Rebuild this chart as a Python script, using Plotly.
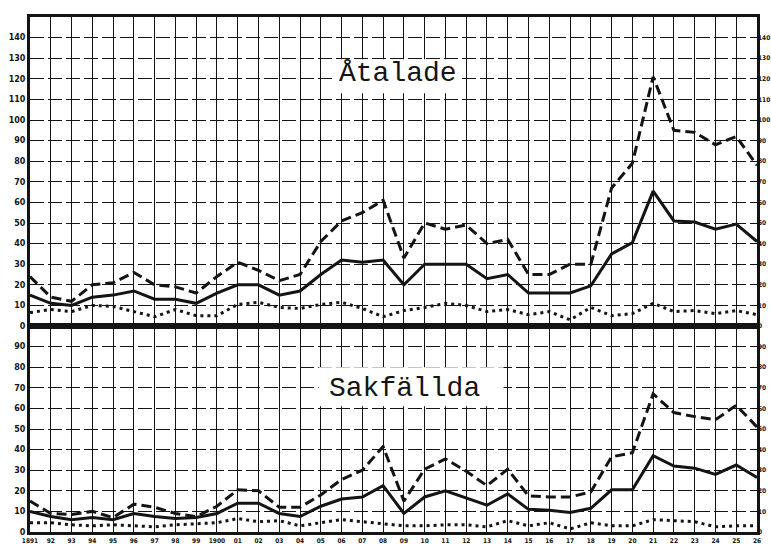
import plotly.graph_objects as go

years = list(range(1891, 1927))
year_labels = ["1891", "92", "93", "94", "95", "96", "97", "98", "99", "1900",
               "01", "02", "03", "04", "05", "06", "07", "08", "09", "10",
               "11", "12", "13", "14", "15", "16", "17", "18", "19", "20",
               "21", "22", "23", "24", "25", "26"]

# Åtalade (upper panel)
at_dash = [24, 14, 12, 20, 21, 26, 20, 19, 16, 24, 31, 27, 22, 25, 41, 51, 55, 61,
           33, 50, 47, 49, 40, 42, 25, 25, 30, 30, 67, 79, 121, 95, 94, 88, 92, 78]
at_solid = [15, 11, 10, 14, 15, 17, 13, 13, 11, 16, 20, 20, 15, 17, 25, 32, 31, 32,
            20, 30, 30, 30, 23, 25, 16, 16, 16, 19.5, 35, 40.5, 65.5, 51, 50.5, 47, 49.5, 41]
at_dot = [6.5, 8, 7, 10, 9.5, 7, 4.5, 8, 5, 5, 10.5, 11.5, 9, 8.5, 10.5, 11.5, 8.5, 4.5,
          7.5, 9, 11, 10, 7, 8, 5.5, 7, 3, 9, 5, 6, 11, 7, 7.5, 6, 7.5, 5.5]

# Sakfällda (lower panel)
sf_dash = [15, 9, 8.5, 10, 7, 13.5, 12, 9, 7.5, 12.5, 20.5, 20, 12, 12, 18, 25.5, 30, 41.5,
           15, 30.5, 35.5, 29.5, 22.5, 30.5, 17.5, 17, 17, 19.5, 36.5, 38.5, 67, 58, 56, 54.5, 61.5, 51]
sf_solid = [10, 7.5, 6, 7, 6, 9, 7.5, 6.5, 7, 9, 14, 14, 9, 7.5, 12.5, 16, 17, 22.5,
            9, 17, 20, 16.5, 13, 18.5, 11, 10.5, 9.5, 11.5, 20.5, 20.5, 37, 32, 31, 28, 32.5, 26.5]
sf_dot = [4.5, 4.5, 3.5, 3, 3.5, 3, 2.5, 3.5, 4, 4.5, 6.5, 5, 5.5, 3, 4.5, 6, 5, 4,
          3, 3, 3.5, 3.5, 2.5, 5.5, 3, 4.5, 1.5, 4.5, 3, 3, 6, 5.5, 5, 2.5, 3, 3]

upper_ticks = list(range(0, 150, 10))
lower_ticks = list(range(0, 100, 10))

INK = "#141414"
fig = go.Figure()

def add_set(dash, solid, dot, xa, ya):
    fig.add_trace(go.Scatter(x=years, y=dot, xaxis=xa, yaxis=ya, mode="lines",
                             line=dict(color=INK, width=3, dash="3px,4px"), hoverinfo="skip"))
    fig.add_trace(go.Scatter(x=years, y=solid, xaxis=xa, yaxis=ya, mode="lines",
                             line=dict(color=INK, width=3), hoverinfo="skip"))
    fig.add_trace(go.Scatter(x=years, y=dash, xaxis=xa, yaxis=ya, mode="lines",
                             line=dict(color=INK, width=3, dash="10px,5px"), hoverinfo="skip"))

add_set(sf_dash, sf_solid, sf_dot, "x", "y")
add_set(at_dash, at_solid, at_dot, "x2", "y2")
# invisible helpers so the right-hand axes are drawn
fig.add_trace(go.Scatter(x=years, y=sf_dot, xaxis="x", yaxis="y3", mode="lines",
                         line=dict(width=0), hoverinfo="skip", opacity=0))
fig.add_trace(go.Scatter(x=years, y=at_dot, xaxis="x2", yaxis="y4", mode="lines",
                         line=dict(width=0), hoverinfo="skip", opacity=0))

tickfont = dict(family="DejaVu Sans", size=8, color=INK, weight="bold")
rtickfont = dict(family="DejaVu Sans Condensed, DejaVu Sans", size=6.5, color=INK, weight="bold")
split = 100 / 250

common_x = dict(range=[1891, 1926], tickvals=years, showgrid=True, gridcolor=INK,
                gridwidth=1.4, showline=True, linecolor=INK, linewidth=3, mirror=True,
                zeroline=False, ticks="", tickangle=0, automargin=False)
common_y = dict(showgrid=True, gridcolor=INK, gridwidth=1.4, griddash="14px,4px",
                showline=True, linecolor=INK, linewidth=3, mirror=True, zeroline=False,
                ticks="", tickfont=tickfont, automargin=False)
right_y = dict(side="right", showgrid=False, zeroline=False, showline=False, ticks="",
               tickfont=rtickfont, automargin=False, ticklabelstandoff=0)

fig.update_layout(
    width=771, height=544,
    margin=dict(l=30, r=14, t=17, b=12),
    paper_bgcolor="white", plot_bgcolor="white",
    showlegend=False,
    xaxis=dict(common_x, anchor="y", domain=[0, 1], ticktext=year_labels,
               tickfont=dict(family="DejaVu Sans Condensed, DejaVu Sans", size=6.5,
                             color=INK, weight="bold")),
    xaxis2=dict(common_x, anchor="y2", domain=[0, 1], matches="x", showticklabels=False),
    yaxis=dict(common_y, domain=[0, split], range=[0, 100], tickvals=lower_ticks),
    yaxis2=dict(common_y, domain=[split, 1], range=[0, 150], tickvals=upper_ticks),
    yaxis3=dict(right_y, overlaying="y", anchor="x", range=[0, 100], tickvals=lower_ticks),
    yaxis4=dict(right_y, overlaying="y2", anchor="x2", range=[0, 150], tickvals=upper_ticks),
)

# white label boxes
fig.add_shape(type="rect", xref="x2", yref="y2", x0=1905.7, x1=1911.8, y0=113, y1=129.5,
              fillcolor="white", line=dict(width=0), layer="between")
fig.add_shape(type="rect", xref="x", yref="y", x0=1904.9, x1=1913.8, y0=61, y1=80,
              fillcolor="white", line=dict(width=0), layer="between")

title_font = dict(family="Liberation Mono", size=28, color=INK)
fig.add_annotation(x=1908.7, y=122.5, xref="x2", yref="y2", text="Åtalade",
                   showarrow=False, font=title_font)
fig.add_annotation(x=1909.05, y=69.5, xref="x", yref="y", text="Sakfällda",
                   showarrow=False, font=title_font)

fig.write_html("out.html", config={"displayModeBar": False},
               post_script="document.body.style.margin='0';document.body.style.overflow='hidden';")
